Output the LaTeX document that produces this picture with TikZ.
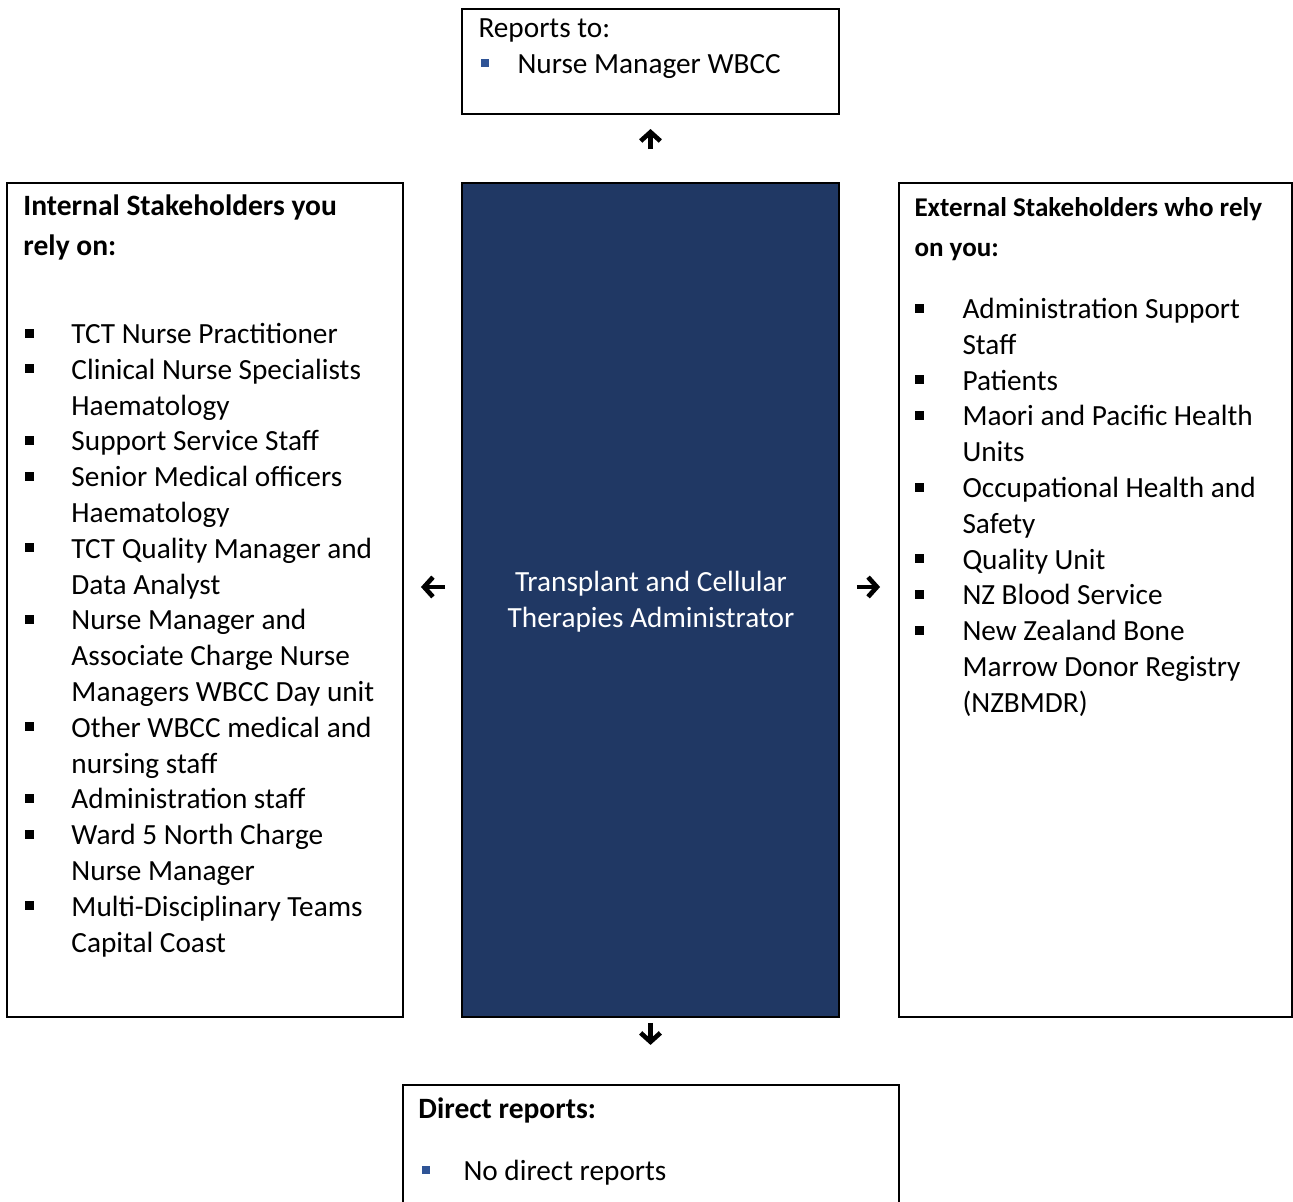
\documentclass[tikz,border=0pt]{standalone}
\usepackage{fontspec}
\setmainfont{Carlito}
\usetikzlibrary{fit,arrows.meta}

\definecolor{navy}{HTML}{203864}
\definecolor{bulletblue}{HTML}{2F5496}

\tikzset{
  box/.style={draw,line width=0.8pt,inner sep=0pt},
  txt/.style={anchor=base west,inner sep=0pt,font=\fontsize{11.9}{14}\selectfont},
  head/.style={txt,font=\fontsize{12}{14}\selectfont\bfseries},
  flow/.style={line width=1.9pt,-{Straight Barb[length=3.6pt,width=8pt]}}
}

\begin{document}
\begin{tikzpicture}[x=0.4065pt,y=-0.4065pt]
\useasboundingbox (0,0) rectangle (1293,1201);

% boxes
\node[box,fit={(462,9) (839,114)}] (top) {};
\node[box,fit={(7,183) (403,1017)}] (left) {};
\node[box,fill=navy,fit={(462,183) (839,1017)}] (role) {};
\node[box,fit={(899,183) (1292,1017)}] (right) {};
\node[box,fit={(403,1085) (899,1240)}] (bottom) {};

% reports to
\node[txt] (repto) at (478,37) {Reports to:};
\fill[bulletblue] (481,59) rectangle +(8,8);
\node[txt] (manager) at (517,73) {Nurse Manager WBCC};

% role
\node[txt,anchor=base,text=white] (role1) at (651,591) {Transplant and Cellular};
\node[txt,anchor=base,text=white] (role2) at (651,627) {Therapies Administrator};

% internal stakeholders
\node[head] (inthead1) at (23,215) {Internal Stakeholders you};
\node[head] (inthead2) at (23,255) {rely on:};
\foreach \line/\mark [count=\i from 0] in {
  TCT Nurse Practitioner/1, Clinical Nurse Specialists/1, Haematology/0,
  Support Service Staff/1, Senior Medical officers/1, Haematology/0,
  TCT Quality Manager and/1, Data Analyst/0, Nurse Manager and/1,
  Associate Charge Nurse/0, Managers WBCC Day unit/0,
  Other WBCC medical and/1, nursing staff/0, Administration staff/1,
  Ward 5 North Charge/1, Nurse Manager/0, Multi-Disciplinary Teams/1,
  Capital Coast/0} {
  \node[txt] (int\i) at (71,343.5+35.8*\i) {\line};
  \ifnum\mark=1 \fill (25,328.5+35.8*\i) rectangle +(9,9); \fi
}

% external stakeholders
\node[head,font=\fontsize{11}{13}\selectfont\bfseries] (exthead1) at (914,216) {External Stakeholders who rely};
\node[head,font=\fontsize{11}{13}\selectfont\bfseries] (exthead2) at (914,256) {on you:};
\foreach \line/\mark [count=\i from 0] in {
  Administration Support/1, Staff/0, Patients/1,
  Maori and Pacific Health/1, Units/0, Occupational Health and/1,
  Safety/0, Quality Unit/1, NZ Blood Service/1, New Zealand Bone/1,
  Marrow Donor Registry/0, (NZBMDR)/0} {
  \node[txt] (ext\i) at (962,318.5+35.8*\i) {\line};
  \ifnum\mark=1 \fill (915,303.5+35.8*\i) rectangle +(9,9); \fi
}

% direct reports
\node[head] (dirhead) at (418,1118) {Direct reports:};
\fill[bulletblue] (422,1166) rectangle +(8,8);
\node[txt] (dirnone) at (463,1180) {No direct reports};

% arrows
\draw[flow,shorten <=13.4pt,shorten >=5.7pt] (role.north) -- (top.south);
\draw[flow,shorten <=6.5pt,shorten >=6.9pt] ([yshift=5.3pt]role.west) -- ([yshift=5.3pt]left.east);
\draw[flow,shorten <=6.9pt,shorten >=7.3pt] ([yshift=5.3pt]role.east) -- ([yshift=5.3pt]right.west);
\draw[flow,shorten <=2pt,shorten >=15.9pt] (role.south) -- (role.south |- bottom.north);
\end{tikzpicture}
\end{document}
